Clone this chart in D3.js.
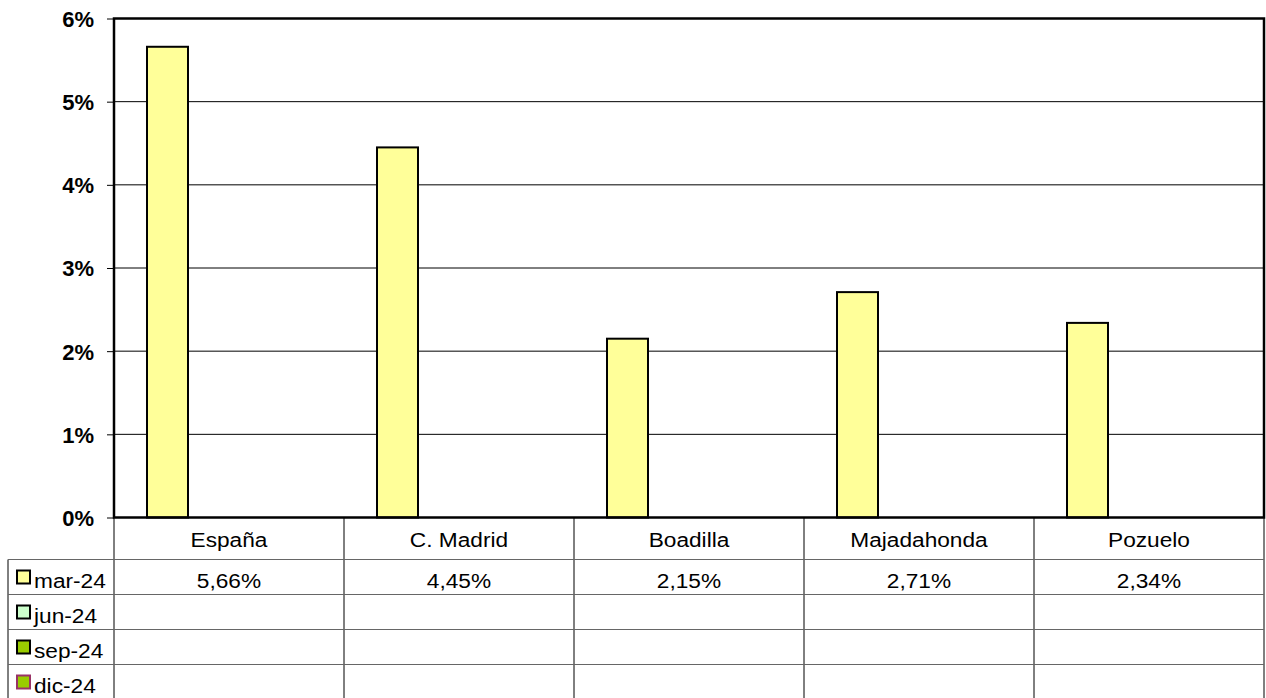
<!DOCTYPE html>
<html>
<head>
<meta charset="utf-8">
<script src="https://cdn.jsdelivr.net/npm/d3@7"></script>
<style>
	body { margin: 0; background: #fff; }
	text { font-family: "Liberation Sans", Arial, sans-serif; }
</style>
</head>
<body>
<div id="chart"></div>
<script>
const categories = ['España', 'C. Madrid', 'Boadilla', 'Majadahonda', 'Pozuelo'];
const seriesNames = ['mar-24', 'jun-24', 'sep-24', 'dic-24'];
const seriesFill = ['#FFFF99', '#CCFFCC', '#99CC00', '#99CC00'];
const seriesStroke = ['#000', '#000', '#000', '#993366'];
const marValues = [5.66, 4.45, 2.15, 2.71, 2.34];
const junValues = [null, null, null, null, null];
const sepValues = [null, null, null, null, null];
const dicValues = [null, null, null, null, null];
const yTicks = [0, 1, 2, 3, 4, 5, 6];

const series = [marValues, junValues, sepValues, dicValues];

const width = 1266, height = 698;
const plot = { left: 114, right: 1264, top: 18.5, bottom: 517.5 };
const headRow = 42, rowH = 35;
const stretch = 1.08; // table text is a bit wide in the original

const svg = d3.select('#chart').append('svg')
	.attr('width', width)
	.attr('height', height);

const x = d3.scaleBand()
	.domain(categories)
	.range([plot.left, plot.right]);

const xInner = d3.scaleBand()
	.domain(d3.range(seriesNames.length))
	.range([0, x.bandwidth()])
	.paddingOuter(33 / 41)
	.paddingInner(0);

const y = d3.scaleLinear()
	.domain([0, 6])
	.range([plot.bottom, plot.top]);

// gridlines
svg.append('g')
	.selectAll('line')
	.data(yTicks.slice(1))
	.enter()
	.append('line')
	.attr('x1', plot.left).attr('x2', plot.right)
	.attr('y1', d => y(d)).attr('y2', d => y(d))
	.attr('stroke', '#000')
	.attr('stroke-width', 1);

// bars
series.forEach((vals, s) => {
	svg.append('g')
		.selectAll('rect')
		.data(vals.map((v, i) => ({ v, c: categories[i] })).filter(d => d.v != null))
		.enter()
		.append('rect')
		.attr('x', d => x(d.c) + xInner(s))
		.attr('width', xInner.bandwidth())
		.attr('y', d => y(d.v))
		.attr('height', d => y(0) - y(d.v))
		.attr('fill', seriesFill[s])
		.attr('stroke', '#000')
		.attr('stroke-width', 2);
});

// plot frame
svg.append('rect')
	.attr('x', plot.left).attr('y', plot.top)
	.attr('width', plot.right - plot.left)
	.attr('height', plot.bottom - plot.top)
	.attr('fill', 'none')
	.attr('stroke', '#000')
	.attr('stroke-width', 2.5);

// y axis
const yAxis = svg.append('g')
	.attr('transform', `translate(${plot.left},0)`)
	.call(d3.axisLeft(y).tickValues(yTicks).tickSize(7).tickPadding(13).tickFormat(d => d + '%'))
	.attr('font-size', 22)
	.attr('font-weight', 'bold')
	.attr('font-family', '"Liberation Sans", Arial, sans-serif');
yAxis.select('.domain').remove();
yAxis.selectAll('.tick line').attr('stroke', '#000').attr('stroke-width', 1);
yAxis.selectAll('.tick text')
	.attr('fill', '#000')
	.attr('dy', '0.36em')
	.style('font-size', '22px')
	.style('font-weight', 'bold');

// data table
const table = svg.append('g');
const tableBottom = plot.bottom + headRow + rowH * seriesNames.length;
const rowTops = seriesNames.map((d, i) => plot.bottom + headRow + i * rowH);

function cellText(px, py, txt, anchor) {
	return table.append('text')
		.attr('transform', `translate(${px},${py}) scale(${stretch},1)`)
		.attr('text-anchor', anchor)
		.style('font-size', '21px')
		.attr('fill', '#000')
		.text(txt);
}

// vertical lines
const vLines = categories.map(c => x(c)).concat([plot.right]);
table.selectAll('.vline')
	.data(vLines)
	.enter()
	.append('line')
	.attr('x1', d => d).attr('x2', d => d)
	.attr('y1', plot.bottom).attr('y2', tableBottom + 5)
	.attr('stroke', '#000')
	.attr('stroke-width', 1);
table.append('line')
	.attr('x1', 8).attr('x2', 8)
	.attr('y1', rowTops[0]).attr('y2', tableBottom + 5)
	.attr('stroke', '#000');

// horizontal lines
table.selectAll('.hline')
	.data(rowTops.concat([tableBottom]))
	.enter()
	.append('line')
	.attr('x1', 8).attr('x2', plot.right)
	.attr('y1', d => d).attr('y2', d => d)
	.attr('stroke', '#666')
	.attr('stroke-width', 1);

// category headers
categories.forEach(c => {
	cellText(x(c) + x.bandwidth() / 2, plot.bottom + 29.5, c, 'middle');
});

// legend rows
seriesNames.forEach((name, s) => {
	const top = rowTops[s];
	table.append('rect')
		.attr('x', 17).attr('y', top + 11)
		.attr('width', 13).attr('height', 13)
		.attr('fill', seriesFill[s])
		.attr('stroke', seriesStroke[s])
		.attr('stroke-width', 2);
	cellText(34, top + 28, name, 'start');
	series[s].forEach((v, i) => {
		if (v == null) return;
		const c = categories[i];
		cellText(x(c) + x.bandwidth() / 2, top + 28.5, v.toFixed(2).replace('.', ',') + '%', 'middle');
	});
});
</script>
</body>
</html>
